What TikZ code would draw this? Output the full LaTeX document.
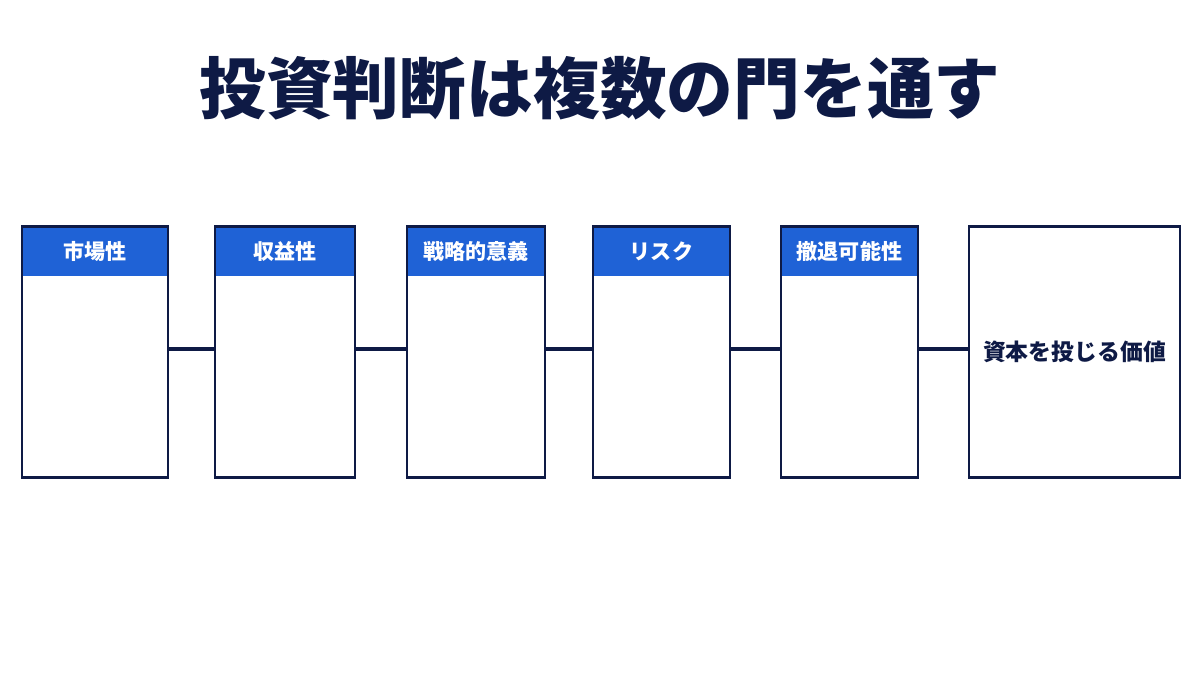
\documentclass[tikz,border=0pt]{standalone}
\usepackage{fontspec}
\setmainfont{Noto Sans CJK JP}
\usetikzlibrary{positioning}
\definecolor{navy}{HTML}{0E1A45}
\definecolor{gateblue}{HTML}{1F62D6}

\begin{document}
\begin{tikzpicture}[x=0.02cm, y=-0.02cm, line width=1.5pt,
  gate/.style = {draw=navy, fill=white, minimum height=5.02cm, inner sep=0pt},
  head/.style = {fill=gateblue, text=white, minimum height=0.96cm, inner sep=0pt, font=\fontsize{12}{14}\selectfont\bfseries},
  link/.style = {draw=navy, line width=2.2pt}]
\useasboundingbox (0,0) rectangle (1200,675);
\node[text=navy, font=\fontsize{38}{44}\selectfont\bfseries] (title) at (600,88) {投資判断は複数の門を通す};

\node[gate, minimum width=2.92cm] (g1) at (95,352) {};
\node[gate, minimum width=2.80cm] (g2) at (285,352) {};
\node[gate, minimum width=2.76cm] (g3) at (476,352) {};
\node[gate, minimum width=2.74cm] (g4) at (661.5,352) {};
\node[gate, minimum width=2.74cm] (g5) at (849.5,352) {};
\node[gate, minimum width=4.22cm, text=navy, font=\fontsize{13}{15}\selectfont\bfseries] (g6) at (1074.5,352) {資本を投じる価値};

\node[head, minimum width=2.87cm, anchor=north] (h1) at ([yshift=-0.025cm]g1.north) {市場性};
\node[head, minimum width=2.75cm, anchor=north] (h2) at ([yshift=-0.025cm]g2.north) {収益性};
\node[head, minimum width=2.71cm, anchor=north] (h3) at ([yshift=-0.025cm]g3.north) {戦略的意義};
\node[head, minimum width=2.69cm, anchor=north] (h4) at ([yshift=-0.025cm]g4.north) {リスク};
\node[head, minimum width=2.69cm, anchor=north] (h5) at ([yshift=-0.025cm]g5.north) {撤退可能性};

\foreach \a/\b in {g1/g2, g2/g3, g3/g4, g4/g5, g5/g6}
  \draw[link] ([yshift=0.06cm]\a.east) -- ([yshift=0.06cm]\b.west);
\end{tikzpicture}
\end{document}
